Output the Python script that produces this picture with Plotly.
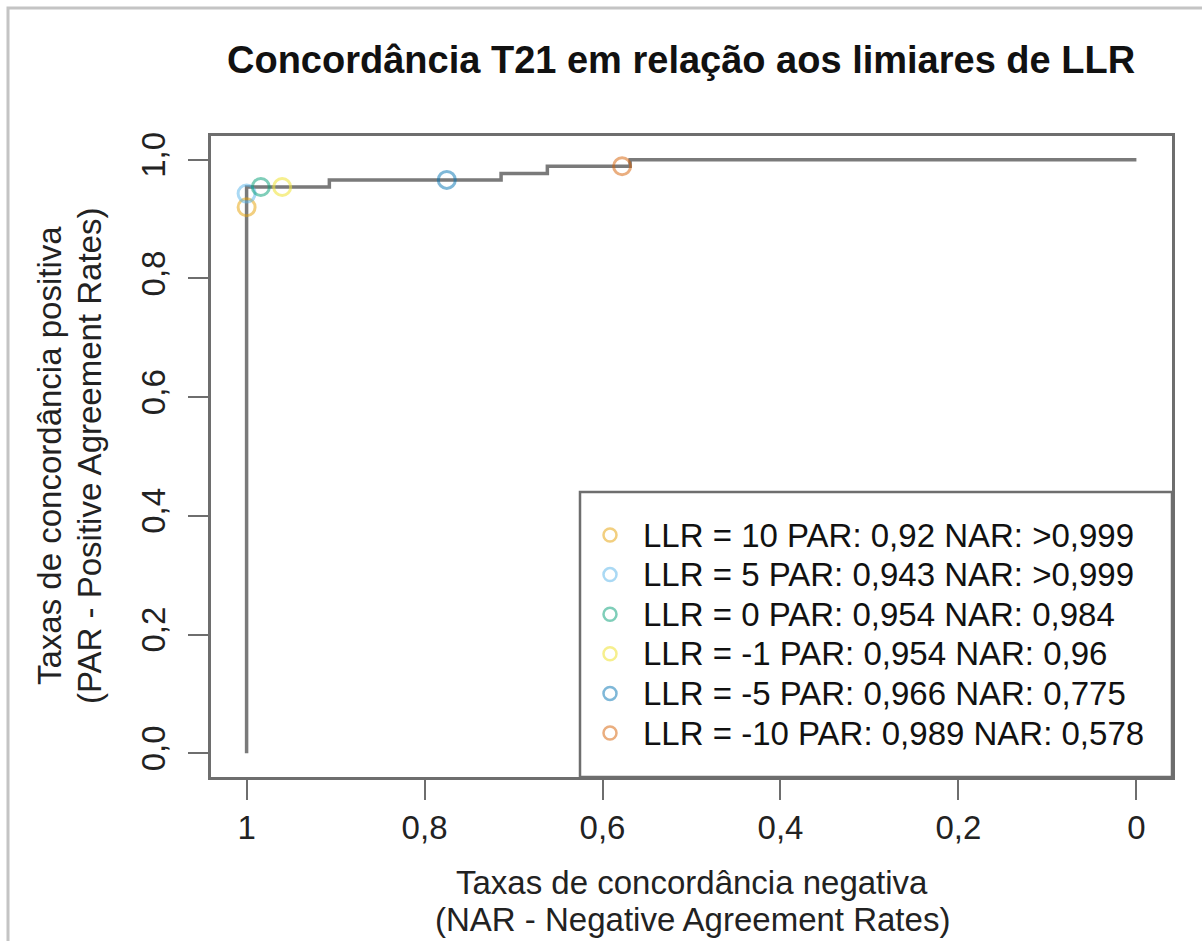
import plotly.graph_objects as go

# ---- data ----
curve_nar = [1.0, 1.0, 0.907, 0.714, 0.662, 0.569, 0.0]
curve_par = [0.0, 0.954, 0.966, 0.977, 0.989, 1.0, 1.0]

llr = [10, 5, 0, -1, -5, -10]
point_par = [0.92, 0.943, 0.954, 0.954, 0.966, 0.989]
point_nar = [1.0, 1.0, 0.984, 0.96, 0.775, 0.578]
par_label = ["0,92", "0,943", "0,954", "0,954", "0,966", "0,989"]
nar_label = [">0,999", ">0,999", "0,984", "0,96", "0,775", "0,578"]
point_colors = ["rgba(230,159,0,0.5)", "rgba(86,180,233,0.5)", "rgba(0,158,115,0.5)",
                "rgba(240,228,66,0.6)", "rgba(0,114,178,0.5)", "rgba(213,94,0,0.5)"]

x_ticks = [1, 0.8, 0.6, 0.4, 0.2, 0]
x_ticktext = ["1", "0,8", "0,6", "0,4", "0,2", "0"]
y_ticks = [0, 0.2, 0.4, 0.6, 0.8, 1.0]
y_ticktext = ["0,0", "0,2", "0,4", "0,6", "0,8", "1,0"]

title = "Concordância T21 em relação aos limiares de LLR"
xtitle = ["Taxas de concordância negativa", "(NAR - Negative Agreement Rates)"]
ytitle = ["Taxas de concordância positiva", "(PAR - Positive Agreement Rates)"]

# ---- layout geometry ----
W, H = 1202, 941
L, R, T, B = 211, 1172, 136, 777
FONT = "Liberation Sans, Arial, sans-serif"
BOXC = "#6e6e6e"


def px(x):
    return (x - L) / (R - L)


def py(y):
    return (B - y) / (B - T)


fig = go.Figure()
fig.add_trace(go.Scatter(x=curve_nar, y=curve_par, mode="lines", line_shape="hv",
                         line=dict(color="#7a7a7a", width=3.5), showlegend=False,
                         hoverinfo="skip"))
for i in range(len(llr)):
    fig.add_trace(go.Scatter(x=[point_nar[i]], y=[point_par[i]], mode="markers",
                             marker=dict(symbol="circle-open", size=17,
                                         line=dict(color=point_colors[i], width=3),
                                         color=point_colors[i]),
                             name=f"LLR = {llr[i]}", showlegend=False))

annotations = [
    dict(text=f"<b>{title}</b>", x=px(680.5), y=py(60), xref="paper", yref="paper",
         showarrow=False, xanchor="center", yanchor="middle",
         font=dict(family=FONT, size=38, color="#111")),
]
for k, t in enumerate(xtitle):
    annotations.append(dict(text=t, x=px(692), y=py(882 + 37 * k), xref="paper", yref="paper",
                            showarrow=False, xanchor="center", yanchor="middle",
                            font=dict(family=FONT, size=33, color="#222")))
for k, t in enumerate(ytitle):
    annotations.append(dict(text=t, x=px(49 + 40 * k), y=py(456), xref="paper", yref="paper",
                            showarrow=False, xanchor="center", yanchor="middle", textangle=-90,
                            font=dict(family=FONT, size=33, color="#222")))

shapes = [
    # outer frame
    dict(type="rect", xref="paper", yref="paper", x0=px(8), x1=px(1230), y0=py(960), y1=py(8),
         line=dict(color="#c4c4c4", width=3), fillcolor="rgba(0,0,0,0)", layer="below"),
    # legend box
    dict(type="rect", xref="paper", yref="paper", x0=px(580), x1=1, y0=0, y1=py(492),
         line=dict(color=BOXC, width=2.5), fillcolor="white", layer="above"),
]
for i in range(len(llr)):
    ry = 535 + i * 39.6
    shapes.append(dict(type="circle", xref="paper", yref="paper", xsizemode="pixel",
                       ysizemode="pixel", xanchor=px(610), yanchor=py(ry),
                       x0=-6.5, x1=6.5, y0=-6.5, y1=6.5,
                       line=dict(color=point_colors[i], width=2.5), layer="above"))
    annotations.append(dict(text=f"LLR = {llr[i]} PAR: {par_label[i]} NAR: {nar_label[i]}",
                            x=px(641), y=py(ry), xref="paper", yref="paper", showarrow=False,
                            xanchor="left", yanchor="middle",
                            font=dict(family=FONT, size=33, color="#111")))

fig.update_layout(
    width=W, height=H,
    margin=dict(l=L, r=W - R, t=T, b=H - B, pad=0),
    paper_bgcolor="white", plot_bgcolor="white",
    showlegend=False,
    annotations=annotations, shapes=shapes,
    font=dict(family=FONT, size=33, color="#222"),
)
fig.update_xaxes(range=[1.04, -0.04], tickvals=x_ticks, ticktext=x_ticktext,
                 showgrid=False, zeroline=False, showline=True, mirror=True,
                 linecolor=BOXC, linewidth=2.5, ticks="outside", ticklen=20,
                 tickwidth=2, tickcolor=BOXC, tickfont=dict(family=FONT, size=33, color="#222"))
fig.update_yaxes(range=[-0.04, 1.04], tickvals=y_ticks, ticktext=y_ticktext,
                 showgrid=False, zeroline=False, showline=True, mirror=True,
                 linecolor=BOXC, linewidth=2.5, ticks="outside", ticklen=20,
                 tickwidth=2, tickcolor=BOXC, tickangle=-90, ticklabelstandoff=10,
                 tickfont=dict(family=FONT, size=33, color="#222"))

fig.write_html("out.html")
